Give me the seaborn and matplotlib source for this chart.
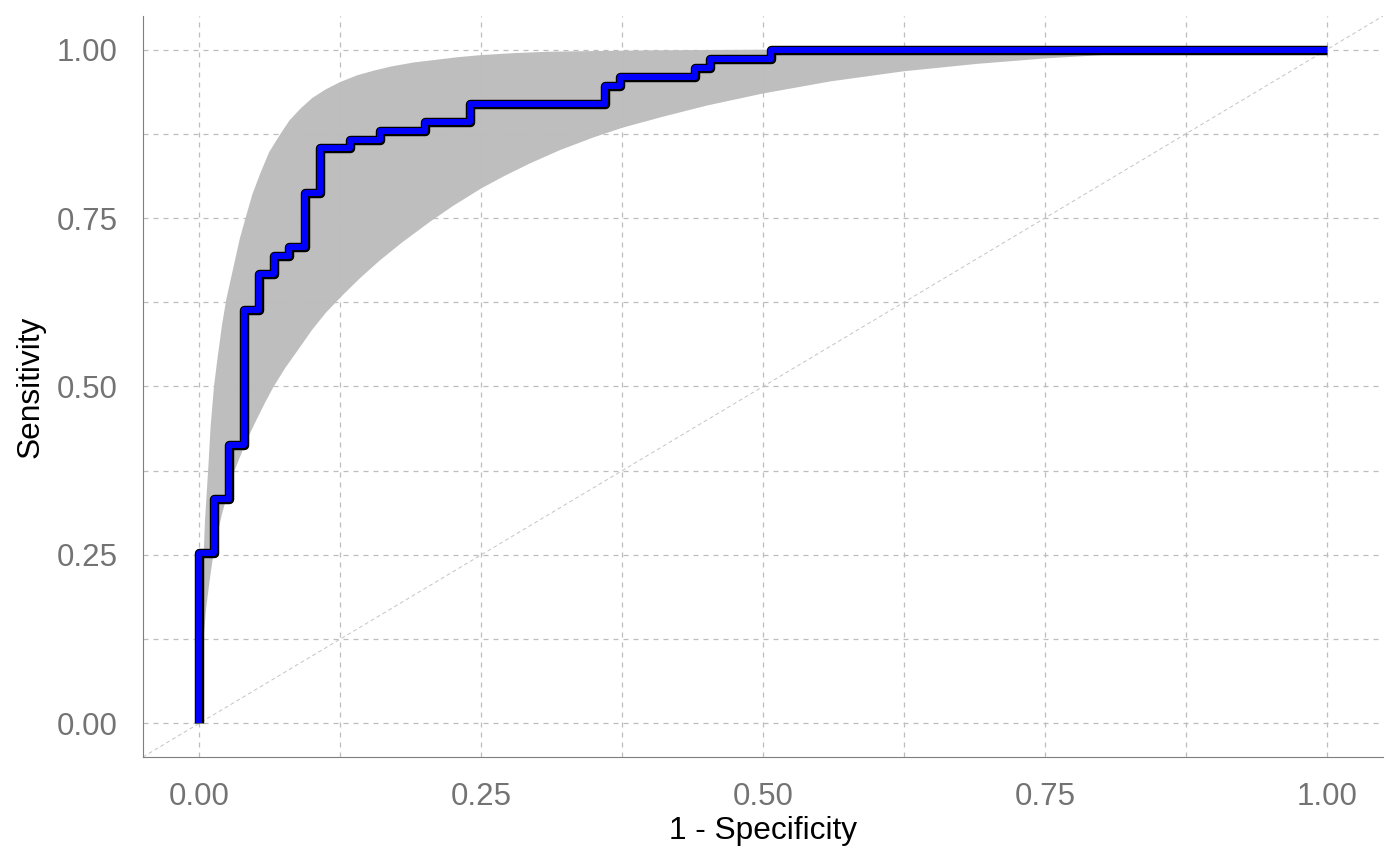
import numpy as np
import pandas as pd
import matplotlib
matplotlib.use("Agg")
import matplotlib.pyplot as plt
import matplotlib.patheffects as pe
import seaborn as sns

# ROC 曲线的拐点（单位：1/75）
fpr_steps = [0, 1, 2, 3, 4, 5, 6, 7, 8, 10, 12, 15, 18, 27, 28, 33, 34, 38, 75]
tpr_steps = [0, 19, 25, 31, 46, 50, 52, 53, 59, 64, 65, 66, 67, 69, 71, 72, 73, 74, 75]

# 置信区间上界
upper_fpr = [0, 0.001, 0.002, 0.003, 0.005, 0.008, 0.010, 0.013, 0.016, 0.02, 0.024, 0.028,
             0.032, 0.036, 0.041, 0.047, 0.054, 0.062, 0.072, 0.08, 0.09, 0.1, 0.112, 0.125,
             0.14, 0.155, 0.17, 0.19, 0.21, 0.23, 0.25, 0.28, 0.31, 0.35, 0.4, 0.45, 0.5,
             0.6, 0.75, 1.0]
upper_tpr = [0, 0.08, 0.15, 0.21, 0.3, 0.38, 0.44, 0.5, 0.54, 0.59, 0.63, 0.66,
             0.69, 0.72, 0.75, 0.785, 0.816, 0.848, 0.875, 0.895, 0.913, 0.928, 0.941, 0.952,
             0.962, 0.969, 0.975, 0.981, 0.985, 0.989, 0.992, 0.995, 0.997, 0.998, 0.999, 0.9995, 1.0,
             1.0, 1.0, 1.0]
# 置信区间下界
lower_fpr = [0, 0.001, 0.002, 0.004, 0.006, 0.009, 0.012, 0.016, 0.02, 0.025, 0.03, 0.036,
             0.042, 0.05, 0.058, 0.066, 0.076, 0.087, 0.1, 0.112, 0.125, 0.142, 0.16, 0.18,
             0.205, 0.225, 0.25, 0.27, 0.293, 0.32, 0.35, 0.375, 0.41, 0.45, 0.5, 0.56, 0.625,
             0.69, 0.75, 0.81, 0.875, 0.94, 1.0]
lower_tpr = [0, 0.03, 0.06, 0.13, 0.17, 0.21, 0.245, 0.28, 0.31, 0.34, 0.37, 0.395,
             0.42, 0.448, 0.475, 0.5, 0.527, 0.553, 0.584, 0.609, 0.632, 0.66, 0.687, 0.714,
             0.745, 0.768, 0.794, 0.812, 0.831, 0.851, 0.87, 0.884, 0.9, 0.917, 0.935, 0.953, 0.968,
             0.979, 0.987, 0.993, 0.997, 0.999, 1.0]

major_ticks = [0, 0.25, 0.5, 0.75, 1.0]
minor_ticks = [0.125, 0.375, 0.625, 0.875]
tick_labels = ["0.00", "0.25", "0.50", "0.75", "1.00"]

roc = pd.DataFrame({"fpr": np.array(fpr_steps) / 75, "tpr": np.array(tpr_steps) / 75})

sns.set_style("white")
plt.rcParams["font.family"] = ["Liberation Sans", "DejaVu Sans"]

fig = plt.figure(figsize=(14, 8.66), dpi=100)
ax = fig.add_axes([0.1021, 0.1259, 0.8858, 0.8556])

# 置信带
band_x = np.concatenate([upper_fpr, lower_fpr[::-1]])
band_y = np.concatenate([upper_tpr, lower_tpr[::-1]])
ax.fill(band_x, band_y, color="#bebebe", lw=0, zorder=1)

# 网格线
grid_kw = dict(color="#bdbdbd", lw=0.9, dashes=(4, 4), zorder=2)
for t in major_ticks + minor_ticks:
    ax.axhline(t, **grid_kw)
    ax.axvline(t, **grid_kw)

# 对角线
ax.plot([-0.05, 1.05], [-0.05, 1.05], color="#c4c4c4", lw=0.7, dashes=(4, 3), zorder=2)

# ROC 曲线
sns.lineplot(data=roc, x="fpr", y="tpr", ax=ax, color="#0000ff", lw=4.3,
             drawstyle="steps-pre", solid_joinstyle="round", solid_capstyle="butt", zorder=3,
             path_effects=[pe.Stroke(linewidth=6.8, foreground="black"), pe.Normal()])

ax.set_xlim(-0.05, 1.05)
ax.set_ylim(-0.05, 1.05)
ax.set_xticks(major_ticks)
ax.set_xticklabels(tick_labels)
ax.set_yticks(major_ticks)
ax.set_yticklabels(tick_labels)
ax.tick_params(axis="both", length=5, width=2.4, color="#7f7f7f", labelcolor="#737373",
               labelsize=22.5, pad=13)
ax.set_xlabel("1 - Specificity", fontsize=22.8, color="black", labelpad=3)
ax.set_ylabel("Sensitivity", fontsize=22.8, color="black", labelpad=8)

for side in ["top", "right"]:
    ax.spines[side].set_visible(False)
for side in ["left", "bottom"]:
    ax.spines[side].set_color("#7f7f7f")
    ax.spines[side].set_linewidth(0.8)

fig.savefig("out.png", dpi=100)
